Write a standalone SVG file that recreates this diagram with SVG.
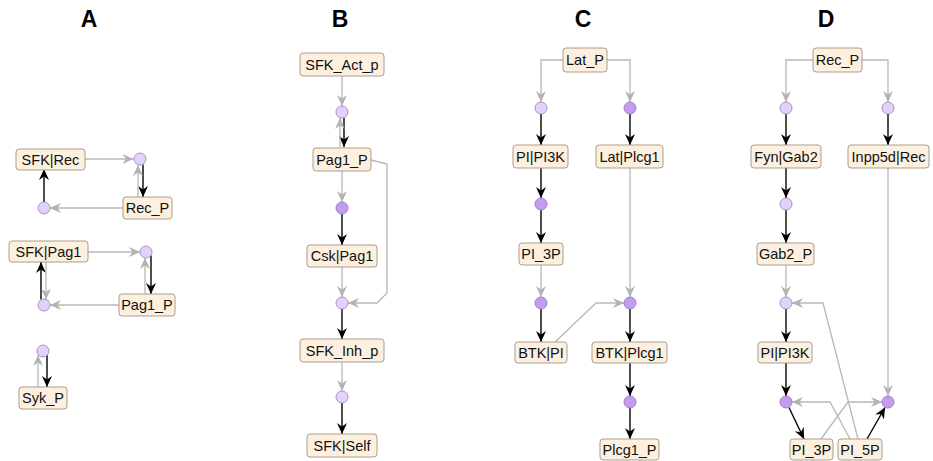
<svg xmlns="http://www.w3.org/2000/svg" width="933" height="461" viewBox="0 0 933 461">
<defs>
<marker id="ag" markerUnits="userSpaceOnUse" markerWidth="13" markerHeight="11" refX="11" refY="5" orient="auto"><path d="M0,0 L11,5 L0,10 L3.5,5 Z" fill="#b3b3b3"/></marker>
<marker id="ak" markerUnits="userSpaceOnUse" markerWidth="13" markerHeight="11" refX="11" refY="5" orient="auto"><path d="M0,0 L11,5 L0,10 L3.5,5 Z" fill="#000"/></marker>
</defs>
<style>
.t{font-family:"Liberation Sans",Arial,sans-serif;font-weight:bold;font-size:23px;fill:#000;text-anchor:middle}
.n rect{fill:#fdf0df;stroke:#aa9d8d;stroke-width:1}
.n text{font-family:"Liberation Sans",Arial,sans-serif;font-size:14.5px;fill:#111;text-anchor:middle;dominant-baseline:central}
.l{fill:#e2d1fa;stroke:#a893c4;stroke-width:1}
.d{fill:#c49bf3;stroke:#a080c4;stroke-width:1}
.g{fill:none;stroke:#b8b8b8;stroke-width:1.3;marker-end:url(#ag)}
.k{fill:none;stroke:#000;stroke-width:1.4;marker-end:url(#ak)}
</style>
<rect width="933" height="461" fill="#fff"/>
<text class="t" x="89" y="27">A</text>
<text class="t" x="340" y="27">B</text>
<text class="t" x="583" y="27">C</text>
<text class="t" x="826" y="27">D</text>

<g id="connectors">
<!-- A -->
<path class="g" d="M85,159 L133.5,159"/>
<path class="k" d="M143,164.5 L143,197"/>
<path class="g" d="M138,197 L138,165"/>
<path class="g" d="M123,208 L50,208"/>
<path class="k" d="M44,202 L44,169"/>
<path class="g" d="M88,252 L140,252"/>
<path class="k" d="M151,255.5 L151,294"/>
<path class="g" d="M145,294 L145,258"/>
<path class="g" d="M119,305 L50,305"/>
<path class="k" d="M41,299.5 L41,262"/>
<path class="g" d="M46,262 L46,299.5"/>
<path class="g" d="M38,387 L38,355"/>
<path class="k" d="M47,354.5 L47,387"/>
<!-- B -->
<path class="g" d="M342,76 L342,106"/>
<path class="k" d="M344,117.5 L344,147"/>
<path class="g" d="M340,147 L340,118"/>
<path class="g" d="M342,171 L342,202"/>
<path class="k" d="M342,214 L342,245"/>
<path class="g" d="M342,267 L342,297"/>
<path class="g" d="M371,160 L387,164 L387,293 L377,303 L348,303"/>
<path class="k" d="M342,309 L342,339"/>
<path class="g" d="M342,362 L342,391"/>
<path class="k" d="M342,403 L342,434"/>
<!-- C -->
<path class="g" d="M563,60 L541,60 L541,102"/>
<path class="g" d="M607,60 L630,60 L630,102"/>
<path class="k" d="M541,114 L541,145"/>
<path class="k" d="M630,114 L630,145"/>
<path class="k" d="M541,168 L541,198"/>
<path class="k" d="M541,210 L541,243"/>
<path class="g" d="M541,265 L541,297"/>
<path class="g" d="M630,168 L630,297"/>
<path class="k" d="M541,309 L541,342"/>
<path class="g" d="M555,342 L596,303 L624,303"/>
<path class="k" d="M630,309 L630,342"/>
<path class="k" d="M630,363 L630,396"/>
<path class="k" d="M630,408 L630,439"/>
<!-- D -->
<path class="g" d="M813,60 L786,60 L786,102"/>
<path class="g" d="M862,60 L888,60 L888,102"/>
<path class="k" d="M786,114 L786,145"/>
<path class="k" d="M888,114 L888,145"/>
<path class="k" d="M786,168 L786,198"/>
<path class="k" d="M786,210 L786,243"/>
<path class="g" d="M786,265 L786,297"/>
<path class="g" d="M888,168 L888,396"/>
<path class="k" d="M786,309 L786,342"/>
<path class="k" d="M786,363 L786,396"/>
<path class="k" d="M789,407.5 L804,439"/>
<path class="k" d="M867,439 L885,407.5"/>
<path class="g" d="M821,439 L848,402 L882,402"/>
<path class="g" d="M850,439 L830,402 L792,402"/>
<path class="g" d="M858,439 L823,303 L792,303"/>
</g>

<!-- Panel A nodes -->
<g id="A_SFK_Rec" class="n"><rect x="16" y="149" width="69" height="21" rx="3"/><text x="50.5" y="159.5">SFK|Rec</text></g>
<g id="A_Rec_P" class="n"><rect x="123" y="197" width="49" height="22" rx="3"/><text x="147.5" y="208">Rec_P</text></g>
<g id="A_r1"><circle class="l" cx="140" cy="159" r="6"/></g>
<g id="A_r2"><circle class="l" cx="44" cy="208" r="6"/></g>
<g id="A_SFK_Pag1" class="n"><rect x="9" y="241" width="79" height="21" rx="3"/><text x="48.5" y="251.5">SFK|Pag1</text></g>
<g id="A_Pag1_P" class="n"><rect x="119" y="294" width="56" height="22" rx="3"/><text x="147" y="305">Pag1_P</text></g>
<g id="A_r3"><circle class="l" cx="146" cy="252" r="6"/></g>
<g id="A_r4"><circle class="l" cx="44" cy="305" r="6"/></g>
<g id="A_Syk_P" class="n"><rect x="19" y="387" width="48" height="22" rx="3"/><text x="43" y="398">Syk_P</text></g>
<g id="A_r5"><circle class="l" cx="43" cy="351" r="6"/></g>

<!-- Panel B nodes -->
<g id="B_SFK_Act_p" class="n"><rect x="300" y="53" width="84" height="23" rx="3"/><text x="342" y="64.5">SFK_Act_p</text></g>
<g id="B_r1"><circle class="l" cx="342" cy="112" r="6"/></g>
<g id="B_Pag1_P" class="n"><rect x="313" y="148" width="58" height="23" rx="3"/><text x="342" y="159.5">Pag1_P</text></g>
<g id="B_r2"><circle class="d" cx="342" cy="208" r="6"/></g>
<g id="B_Csk_Pag1" class="n"><rect x="307" y="245" width="70" height="22" rx="3"/><text x="342" y="256">Csk|Pag1</text></g>
<g id="B_r3"><circle class="l" cx="342" cy="303" r="6"/></g>
<g id="B_SFK_Inh_p" class="n"><rect x="300" y="339" width="84" height="23" rx="3"/><text x="342" y="350.5">SFK_Inh_p</text></g>
<g id="B_r4"><circle class="l" cx="342" cy="397" r="6"/></g>
<g id="B_SFK_Self" class="n"><rect x="307" y="434" width="70" height="23" rx="3"/><text x="342" y="445.5">SFK|Self</text></g>

<!-- Panel C nodes -->
<g id="C_Lat_P" class="n"><rect x="563" y="48" width="44" height="24" rx="3"/><text x="585" y="60">Lat_P</text></g>
<g id="C_r1"><circle class="l" cx="541" cy="108" r="6"/></g>
<g id="C_r2"><circle class="d" cx="630" cy="108" r="6"/></g>
<g id="C_PI_PI3K" class="n"><rect x="513" y="145" width="55" height="23" rx="3"/><text x="540.5" y="156.5">PI|PI3K</text></g>
<g id="C_Lat_Plcg1" class="n"><rect x="596" y="145" width="67" height="23" rx="3"/><text x="629.5" y="156.5">Lat|Plcg1</text></g>
<g id="C_r3"><circle class="d" cx="541" cy="204" r="6"/></g>
<g id="C_PI_3P" class="n"><rect x="519" y="243" width="44" height="22" rx="3"/><text x="541" y="254">PI_3P</text></g>
<g id="C_r4"><circle class="d" cx="541" cy="303" r="6"/></g>
<g id="C_r5"><circle class="d" cx="630" cy="303" r="6"/></g>
<g id="C_BTK_PI" class="n"><rect x="515" y="342" width="52" height="21" rx="3"/><text x="541" y="352.5">BTK|PI</text></g>
<g id="C_BTK_Plcg1" class="n"><rect x="592" y="342" width="75" height="21" rx="3"/><text x="629.5" y="352.5">BTK|Plcg1</text></g>
<g id="C_r6"><circle class="d" cx="630" cy="402" r="6"/></g>
<g id="C_Plcg1_P" class="n"><rect x="600" y="439" width="59" height="21" rx="3"/><text x="629.5" y="449.5">Plcg1_P</text></g>

<!-- Panel D nodes -->
<g id="D_Rec_P" class="n"><rect x="813" y="48" width="49" height="24" rx="3"/><text x="837.5" y="60">Rec_P</text></g>
<g id="D_r1"><circle class="l" cx="786" cy="108" r="6"/></g>
<g id="D_r2"><circle class="l" cx="888" cy="108" r="6"/></g>
<g id="D_Fyn_Gab2" class="n"><rect x="751" y="145" width="70" height="23" rx="3"/><text x="786" y="156.5">Fyn|Gab2</text></g>
<g id="D_Inpp5d_Rec" class="n"><rect x="848" y="145" width="81" height="23" rx="3"/><text x="888.5" y="156.5">Inpp5d|Rec</text></g>
<g id="D_r3"><circle class="l" cx="786" cy="204" r="6"/></g>
<g id="D_Gab2_P" class="n"><rect x="757" y="243" width="57" height="22" rx="3"/><text x="785.5" y="254">Gab2_P</text></g>
<g id="D_r4"><circle class="l" cx="786" cy="303" r="6"/></g>
<g id="D_PI_PI3K" class="n"><rect x="758" y="342" width="54" height="21" rx="3"/><text x="785" y="352.5">PI|PI3K</text></g>
<g id="D_r5"><circle class="d" cx="786" cy="402" r="6"/></g>
<g id="D_r6"><circle class="d" cx="888" cy="402" r="6"/></g>
<g id="D_PI_3P" class="n"><rect x="790" y="439" width="43" height="21" rx="3"/><text x="811.5" y="449.5">PI_3P</text></g>
<g id="D_PI_5P" class="n"><rect x="838" y="439" width="44" height="21" rx="3"/><text x="860" y="449.5">PI_5P</text></g>
</svg>
